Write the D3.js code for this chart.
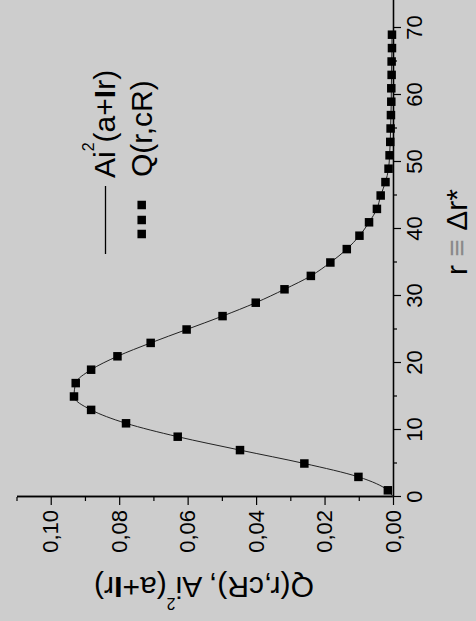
<!DOCTYPE html>
<html>
<head>
<meta charset="utf-8">
<script src="https://cdn.jsdelivr.net/npm/d3@7"></script>
<style>
  html, body { margin: 0; padding: 0; background: #cdcdcd; }
  svg { display: block; }
  text { font-family: "Liberation Sans", Arial, sans-serif; fill: #000; }
</style>
</head>
<body>
<svg id="chart" width="476" height="621"></svg>
<script>
// r positions of the sampled points
const rValues = [1, 3, 5, 7, 9, 11, 13, 15, 17, 19, 21, 23, 25, 27, 29, 31, 33, 35,
                 37, 39, 41, 43, 45, 47, 49, 51, 53, 55, 57, 59, 61, 63, 65, 67, 69];
// Q(r,cR) values (square markers)
const qValues = [0.0015, 0.0101, 0.0259, 0.0447, 0.0629, 0.0780, 0.0882, 0.0932, 0.0927,
                 0.0882, 0.0805, 0.0708, 0.0603, 0.0498, 0.0401, 0.0317, 0.0240, 0.0183,
                 0.0135, 0.0098, 0.0070, 0.0047, 0.0036, 0.0022, 0.0013, 0.0010, 0.0008,
                 0.0007, 0.0006, 0.0005, 0.0005, 0.0004, 0.0004, 0.0003, 0.0003];
// Ai^2(a+lr) curve samples
const lineR = [0, 1, 3, 5, 7, 9, 11, 13, 15, 17, 19, 21, 23, 25, 27, 29, 31, 33, 35,
               37, 39, 41, 43, 45, 47, 49, 51, 53, 55, 57, 59, 61, 63, 65, 67, 69];
const lineQ = [0.0000, 0.0015, 0.0101, 0.0259, 0.0447, 0.0629, 0.0780, 0.0882, 0.0932, 0.0927,
               0.0882, 0.0805, 0.0708, 0.0603, 0.0498, 0.0401, 0.0317, 0.0240, 0.0183,
               0.0135, 0.0098, 0.0070, 0.0047, 0.0036, 0.0022, 0.0013, 0.0010, 0.0008,
               0.0007, 0.0006, 0.0005, 0.0005, 0.0004, 0.0004, 0.0003, 0.0003];
// Tick values
const rMajorTicks = [0, 10, 20, 30, 40, 50, 60, 70];
const rMinorTicks = [5, 15, 25, 35, 45, 55, 65, 75];
const qMajorTicks = [0, 0.02, 0.04, 0.06, 0.08, 0.10];
const qMinorTicks = [0.01, 0.03, 0.05, 0.07, 0.09, 0.11];

const svg = d3.select("#chart");
svg.append("rect").attr("width", 476).attr("height", 621).attr("fill", "#cdcdcd");

// The whole plot is laid out in landscape and turned a quarter turn counter-clockwise.
const root = svg.append("g").attr("transform", "translate(0,621) rotate(-90)");

const x = d3.scaleLinear().domain([0, 75]).range([124, 626.5]);
const y = d3.scaleLinear().domain([0, 0.11]).range([393, 16.5]);

const commaFmt = d => d3.format(".2f")(d).replace(".", ",");

// r axis
const xMinor = root.append("g").attr("transform", `translate(0,${y(0)})`)
  .call(d3.axisBottom(x).tickValues(rMinorTicks).tickSize(4).tickSizeOuter(0).tickFormat(""));
const xAxis = root.append("g").attr("transform", `translate(0,${y(0)})`)
  .call(d3.axisBottom(x).tickValues(rMajorTicks).tickSize(8).tickSizeOuter(0)
        .tickPadding(5).tickFormat(d3.format("d")));

// Q axis
const yMinor = root.append("g").attr("transform", `translate(${x(0)},0)`)
  .call(d3.axisLeft(y).tickValues(qMinorTicks).tickSize(4).tickSizeOuter(0).tickFormat(""));
const yAxis = root.append("g").attr("transform", `translate(${x(0)},0)`)
  .call(d3.axisLeft(y).tickValues(qMajorTicks).tickSize(8).tickSizeOuter(0)
        .tickPadding(5).tickFormat(commaFmt));

[xMinor, xAxis, yMinor, yAxis].forEach(a => {
  a.selectAll("path.domain").attr("stroke", "#000").attr("stroke-width", 1.3);
  a.selectAll(".tick line").attr("stroke", "#000").attr("stroke-width", 1.2);
  a.selectAll("text").style("font-family", '"Liberation Sans", Arial, sans-serif')
    .attr("font-size", 22).attr("fill", "#000");
});

// Ai^2 curve
const line = d3.line()
  .x((d, i) => x(lineR[i]))
  .y(d => y(d))
  .curve(d3.curveMonotoneX);
root.append("path")
  .datum(lineQ)
  .attr("d", line)
  .attr("fill", "none")
  .attr("stroke", "#222")
  .attr("stroke-width", 1);

// Q(r,cR) markers
const sq = 8.5;
root.append("g").selectAll("rect")
  .data(qValues)
  .join("rect")
  .attr("x", (d, i) => x(rValues[i]) - sq / 2)
  .attr("y", d => y(d) - sq / 2)
  .attr("width", sq)
  .attr("height", sq)
  .attr("fill", "#000");

// Axis titles
const qTitle = root.append("text")
  .attr("transform", "translate(44,204) rotate(-90)")
  .attr("text-anchor", "middle")
  .attr("font-size", 30);
qTitle.append("tspan").text("Q(r,cR), Ai");
qTitle.append("tspan").attr("font-size", 16).attr("dy", -21).text("2");
qTitle.append("tspan").attr("dy", 21).text("(a+");
qTitle.append("tspan").attr("font-weight", "bold").text("I");
qTitle.append("tspan").text("r)");

const rTitle = root.append("text")
  .attr("x", 389).attr("y", 467)
  .attr("text-anchor", "middle")
  .attr("font-size", 30);
rTitle.append("tspan").text("r ");
rTitle.append("tspan").attr("fill", "#8a8a8a").text("≡");
rTitle.append("tspan").text(" Δr*");

// Legend
const legend = root.append("g");
legend.append("line")
  .attr("x1", 367).attr("x2", 435)
  .attr("y1", 105.5).attr("y2", 105.5)
  .attr("stroke", "#000").attr("stroke-width", 1.3);
const l1 = legend.append("text").attr("x", 443).attr("y", 115).attr("font-size", 30);
l1.append("tspan").text("Ai");
l1.append("tspan").attr("font-size", 16).attr("dy", -21).text("2");
l1.append("tspan").attr("dy", 21).text("(a+");
l1.append("tspan").attr("font-weight", "bold").text("I");
l1.append("tspan").text("r)");

legend.selectAll("rect.key")
  .data([387, 401, 416])
  .join("rect")
  .attr("class", "key")
  .attr("x", d => d - sq / 2)
  .attr("y", 141.7 - sq / 2)
  .attr("width", sq).attr("height", sq)
  .attr("fill", "#000");
legend.append("text").attr("x", 444).attr("y", 152).attr("font-size", 30).text("Q(r,cR)");
</script>
</body>
</html>
